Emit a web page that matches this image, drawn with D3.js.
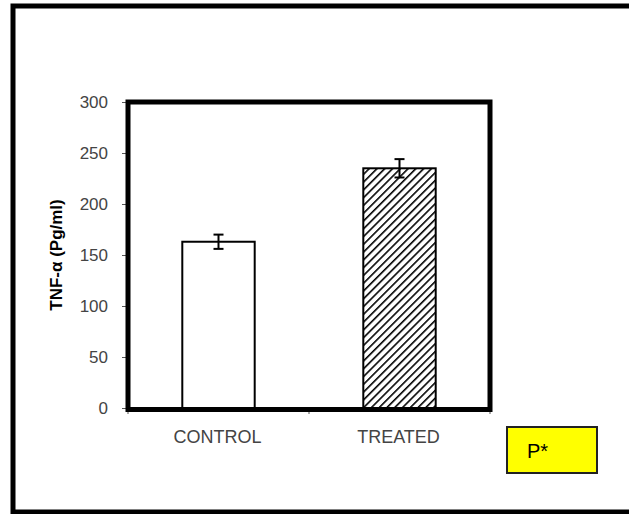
<!DOCTYPE html>
<html>
<head>
<meta charset="utf-8">
<script src="https://cdn.jsdelivr.net/npm/d3@7"></script>
<style>
  body { margin: 0; background: #fff; }
  svg { display: block; font-family: Arial, "Liberation Sans", sans-serif; }
</style>
</head>
<body>
<svg id="chart" width="629" height="514"></svg>
<script>
// chart data
const groups = ["CONTROL", "TREATED"];
const means = [163, 235];
const errors = [7, 9];
const yTicks = [0, 50, 100, 150, 200, 250, 300];
const yLabel = "TNF-α (Pg/ml)";
const noteText = "P*";

const svg = d3.select("#chart");

// outer frame, right edge runs off the page
svg.append("rect")
  .attr("x", 13).attr("y", 6)
  .attr("width", 640).attr("height", 506)
  .attr("fill", "none")
  .attr("stroke", "#000")
  .attr("stroke-width", 5);

// hatch pattern for treated bar
const defs = svg.append("defs");
const pat = defs.append("pattern")
  .attr("id", "hatch")
  .attr("patternUnits", "userSpaceOnUse")
  .attr("width", 5.5).attr("height", 5.5)
  .attr("patternTransform", "rotate(45)");
pat.append("rect").attr("width", 5.5).attr("height", 5.5).attr("fill", "#fff");
pat.append("line")
  .attr("x1", 0).attr("y1", 0).attr("x2", 0).attr("y2", 5.5)
  .attr("stroke", "#000").attr("stroke-width", 3.2);

const plot = { left: 128, right: 490, top: 102, bottom: 408 };

const x = d3.scaleBand()
  .domain(groups)
  .range([plot.left, plot.right])
  .paddingInner(0.6)
  .paddingOuter(0.3);

const y = d3.scaleLinear()
  .domain([0, 300])
  .range([plot.bottom, plot.top]);

// y axis ticks + labels
const yAxis = svg.append("g")
  .attr("transform", `translate(${plot.left},0)`)
  .call(d3.axisLeft(y).tickValues(yTicks).tickSize(6).tickPadding(14));
yAxis.select(".domain").remove();
yAxis.selectAll("line").attr("stroke", "#555").attr("stroke-width", 1);
yAxis.selectAll("text")
  .attr("fill", "#444")
  .style("font-size", "17px")
  .style("font-family", "Arial, 'Liberation Sans', sans-serif");

// x axis tick marks at category boundaries
const boundScale = d3.scaleLinear().domain([0, groups.length]).range([plot.left, plot.right]);
svg.append("g")
  .selectAll("line")
  .data(d3.range(groups.length + 1))
  .join("line")
  .attr("x1", d => boundScale(d)).attr("x2", d => boundScale(d))
  .attr("y1", plot.bottom).attr("y2", plot.bottom + 6)
  .attr("stroke", "#555").attr("stroke-width", 1);

// bars
svg.append("g")
  .selectAll("rect")
  .data(groups)
  .join("rect")
  .attr("x", d => x(d))
  .attr("width", x.bandwidth())
  .attr("y", (d, i) => y(means[i]))
  .attr("height", (d, i) => y(0) - y(means[i]))
  .attr("fill", (d, i) => i === 0 ? "#fff" : "url(#hatch)")
  .attr("stroke", "#000")
  .attr("stroke-width", 2);

// error bars
const eb = svg.append("g").attr("stroke", "#000").attr("stroke-width", 2);
groups.forEach((g, i) => {
  const cx = x(g) + x.bandwidth() / 2;
  eb.append("line")
    .attr("x1", cx).attr("x2", cx)
    .attr("y1", y(means[i] + errors[i])).attr("y2", y(means[i] - errors[i]));
  [means[i] + errors[i], means[i] - errors[i]].forEach(v => {
    eb.append("line")
      .attr("x1", cx - 5).attr("x2", cx + 5)
      .attr("y1", y(v)).attr("y2", y(v));
  });
});

// thick plot frame
svg.append("rect")
  .attr("x", plot.left).attr("y", plot.top)
  .attr("width", plot.right - plot.left)
  .attr("height", plot.bottom + 1.5 - plot.top)
  .attr("fill", "none")
  .attr("stroke", "#000")
  .attr("stroke-width", 5);

// category labels
svg.append("g")
  .selectAll("text")
  .data(groups)
  .join("text")
  .attr("x", d => x(d) + x.bandwidth() / 2 - 1)
  .attr("y", 443)
  .attr("text-anchor", "middle")
  .attr("fill", "#444")
  .style("font-size", "18px")
  .text(d => d);

// y axis title
svg.append("text")
  .attr("transform", `translate(62,255) rotate(-90)`)
  .attr("text-anchor", "middle")
  .attr("fill", "#000")
  .style("font-size", "17px")
  .style("font-weight", "bold")
  .text(yLabel);

// yellow note box
svg.append("rect")
  .attr("x", 507).attr("y", 427)
  .attr("width", 90).attr("height", 46)
  .attr("fill", "#ffff00")
  .attr("stroke", "#222")
  .attr("stroke-width", 2);
svg.append("text")
  .attr("x", 527).attr("y", 458)
  .attr("fill", "#000")
  .style("font-size", "20px")
  .text(noteText);
</script>
</body>
</html>
